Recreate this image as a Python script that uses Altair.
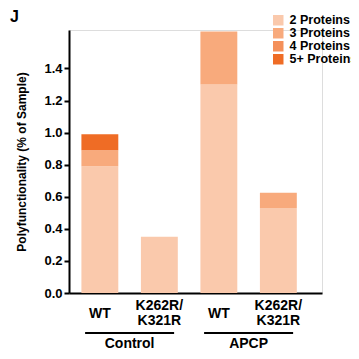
import altair as alt
import pandas as pd

# ---- data ----
groups = ["Control", "Control", "APCP", "APCP"]
genotypes = ["WT", "K262R/K321R", "WT", "K262R/K321R"]
series = ["2 Proteins", "3 Proteins", "4 Proteins", "5+ Proteins"]
p2 = [0.79, 0.35, 1.30, 0.53]
p3 = [0.10, 0.0, 0.33, 0.095]
p4 = [0.0, 0.0, 0.0, 0.0]
p5 = [0.10, 0.0, 0.0, 0.0]
colors = ["#FAC9AC", "#F8AA7C", "#F4905A", "#EF6C25"]
y_ticks = [0.0, 0.2, 0.4, 0.6, 0.8, 1.0, 1.2, 1.4]

keys = [f"{g}:{n}" for g, n in zip(groups, genotypes)]
rows = []
for i, k in enumerate(keys):
    for j, (s, vals) in enumerate(zip(series, [p2, p3, p4, p5])):
        rows.append({"key": k, "series": s, "value": vals[i], "order": j})
df = pd.DataFrame(rows)

group_names = ["Control", "APCP"]
gdf = pd.DataFrame({
    "group": group_names,
    "start": [keys[groups.index(g)] for g in group_names],
    "end": [keys[len(groups) - 1 - groups[::-1].index(g)] for g in group_names],
})

FONT = "Liberation Sans"
W, H = 253, 263

lab = "split(datum.value, ':')[1]"
label_expr = (
    f"indexof({lab}, '/') > 0 ? "
    f"[substring({lab}, 0, indexof({lab}, '/') + 1), substring({lab}, indexof({lab}, '/') + 1)] : {lab}"
)
multi_test = "indexof(datum.value, '/') > 0"

xscale = alt.Scale(domain=keys, paddingInner=0.38, paddingOuter=0.316, align=0.33)

bars = alt.Chart(df).mark_bar().encode(
    x=alt.X("key:N", scale=xscale,
            axis=alt.Axis(title=None, labelExpr=label_expr, ticks=False, domainWidth=2,
                          domainColor="black", labelAngle=0, labelFontSize=14,
                          labelFontWeight="bold", labelColor="black", labelBaseline="top",
                          labelLineHeight=15,
                          labelPadding=alt.condition(multi_test, alt.value(5), alt.value(13)),
                          labelFont=FONT)),
    y=alt.Y("value:Q", stack="zero", scale=alt.Scale(domain=[0, 1.64], nice=False),
            axis=alt.Axis(values=y_ticks, format=".1f", title="Polyfunctionality (% of Sample)",
                          grid=False, domainWidth=2, domainColor="black", tickWidth=2,
                          tickColor="black", tickSize=5, labelFontSize=13, labelFontWeight="bold",
                          labelColor="black", labelFont=FONT, titleFont=FONT, titleFontSize=12,
                          titleFontWeight="bold", titleColor="black", titlePadding=15)),
    color=alt.Color("series:N", scale=alt.Scale(domain=series, range=colors),
                    legend=alt.Legend(title=None, orient="none", legendX=203, legendY=-16,
                                      symbolType="square", symbolSize=110, symbolStrokeWidth=0,
                                      labelFontSize=12.5, labelFontWeight="bold", labelFont=FONT,
                                      labelColor="black", rowPadding=0, labelOffset=5,
                                      labelLimit=200)),
    order=alt.Order("order:Q"),
)

grp_rule = alt.Chart(gdf).mark_rule(color="black", strokeWidth=2).encode(
    x=alt.X("start:N", scale=xscale, bandPosition=0.1),
    x2=alt.X2("end:N", bandPosition=0.9),
    y=alt.value(H + 40),
)

grp_text = alt.Chart(gdf).mark_text(font=FONT, fontSize=14, fontWeight="bold", color="black",
                                    baseline="middle", align="center", dx=29.75).encode(
    x=alt.X("start:N", scale=xscale, bandPosition=0.5),
    y=alt.value(H + 51),
    text="group:N",
)

panel = alt.Chart(pd.DataFrame({"t": ["J"]})).mark_text(
    font=FONT, fontSize=16, fontWeight="bold", color="black", align="left", baseline="middle"
).encode(x=alt.value(-59), y=alt.value(-13), text="t:N")

chart = alt.layer(bars, grp_rule, grp_text, panel).properties(
    width=W, height=H, autosize="none",
    padding={"left": 61, "top": 22, "right": 29, "bottom": 58},
).configure_view(stroke="transparent").configure(font=FONT)

chart.save("out.html", embed_options={"renderer": "svg", "actions": False})
